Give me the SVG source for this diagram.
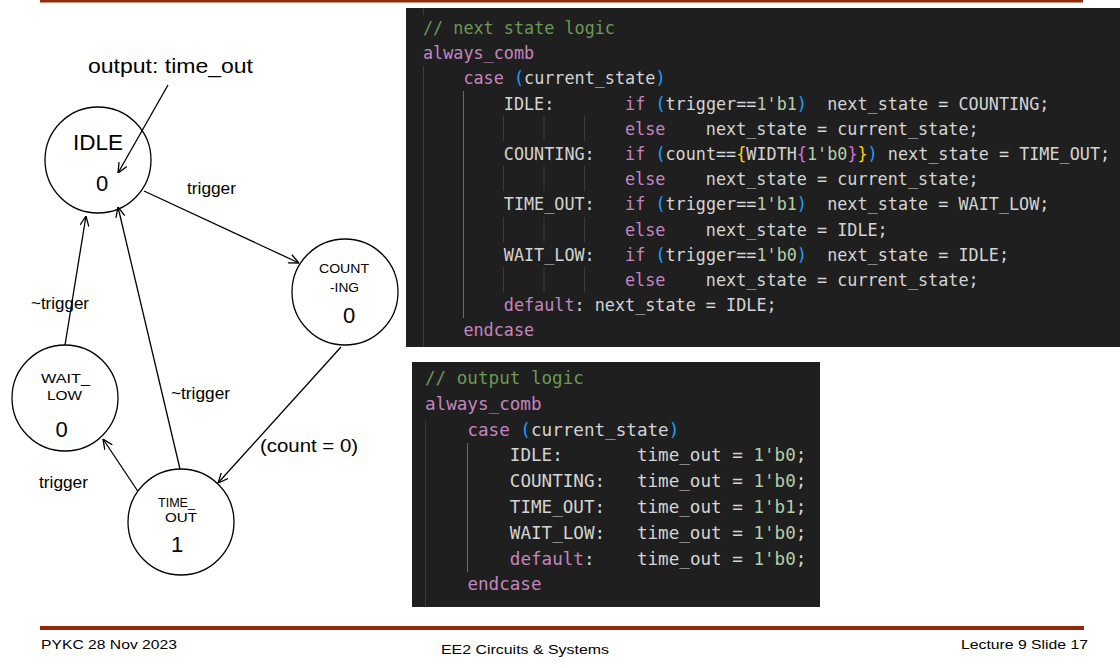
<svg xmlns="http://www.w3.org/2000/svg" width="1120" height="668" viewBox="0 0 1120 668">
<style>
.lbl{font-family:"Liberation Sans",Arial,sans-serif;fill:#000}
.st{fill:#fff;stroke:#000;stroke-width:1.3}
.edge{stroke:#000;stroke-width:1.3;fill:none;marker-end:url(#arr)}
.code{font-family:"DejaVu Sans Mono","Liberation Mono",monospace;fill:#D4D4D4}
.cm{fill:#6A9955}.kw{fill:#C586C0}.num{fill:#B5CEA8}.b1{fill:#FFD700}.b2{fill:#DA70D6}.b3{fill:#179FFF}
.g{stroke:#3c3c3c;stroke-width:1}.ga{stroke:#6a6a6a;stroke-width:1}
.foot{font-family:"Liberation Sans",Arial,sans-serif;font-size:12.5px;fill:#000}
</style>
<defs>
<marker id="arr" viewBox="0 0 10 10" refX="10" refY="5" markerWidth="10" markerHeight="10" markerUnits="userSpaceOnUse" orient="auto">
<path d="M0,0.5 L10,5 L0,9.5" fill="none" stroke="#000" stroke-width="1.3"/>
</marker>
</defs>
<rect width="1120" height="668" fill="#fff"/>
<rect x="40" y="0" width="1043" height="2.5" fill="#8E2B08"/>
<rect x="40" y="626" width="1044" height="4" fill="#8E2B08"/>

<g id="connectors">
<line class="edge" x1="168" y1="85" x2="118" y2="173"/>
<line class="edge" x1="144" y1="191" x2="299" y2="263"/>
<line class="edge" x1="341" y1="347" x2="218" y2="483"/>
<line class="edge" x1="139" y1="493" x2="103" y2="439"/>
<line class="edge" x1="65" y1="345" x2="86" y2="216"/>
<line class="edge" x1="180" y1="469" x2="118" y2="207"/>
<text class="lbl" x="187" y="194" font-size="16" textLength="49" lengthAdjust="spacingAndGlyphs">trigger</text>
<text class="lbl" x="31" y="309" font-size="16" textLength="58" lengthAdjust="spacingAndGlyphs">~trigger</text>
<text class="lbl" x="171" y="399" font-size="16" textLength="59" lengthAdjust="spacingAndGlyphs">~trigger</text>
<text class="lbl" x="260" y="452" font-size="18" textLength="98" lengthAdjust="spacingAndGlyphs">(count = 0)</text>
<text class="lbl" x="39" y="488" font-size="16" textLength="49" lengthAdjust="spacingAndGlyphs">trigger</text>
</g>

<g id="output-label">
<text class="lbl" x="88" y="73" font-size="20" textLength="165" lengthAdjust="spacingAndGlyphs">output: time_out</text>
</g>

<g id="idle">
<circle class="st" cx="98" cy="160" r="53" fill-opacity="0"/>
<text class="lbl" x="98" y="150" font-size="22.5" text-anchor="middle">IDLE</text>
<text class="lbl" x="102" y="191" font-size="22" text-anchor="middle">0</text>
</g>

<g id="counting">
<circle class="st" cx="345" cy="292" r="53"/>
<text class="lbl" x="344" y="273" font-size="13" text-anchor="middle" textLength="50" lengthAdjust="spacingAndGlyphs">COUNT</text>
<text class="lbl" x="344.5" y="292" font-size="13" text-anchor="middle" textLength="29" lengthAdjust="spacingAndGlyphs">-ING</text>
<text class="lbl" x="349" y="323" font-size="22" text-anchor="middle">0</text>
</g>

<g id="wait_low">
<circle class="st" cx="65" cy="398" r="53"/>
<text class="lbl" x="65.5" y="383" font-size="13" text-anchor="middle" textLength="49" lengthAdjust="spacingAndGlyphs">WAIT_</text>
<text class="lbl" x="64.5" y="400" font-size="13" text-anchor="middle" textLength="35" lengthAdjust="spacingAndGlyphs">LOW</text>
<text class="lbl" x="61.5" y="437" font-size="22" text-anchor="middle">0</text>
</g>

<g id="time_out">
<circle class="st" cx="181" cy="522" r="53"/>
<text class="lbl" x="176.5" y="507" font-size="13" text-anchor="middle" textLength="37" lengthAdjust="spacingAndGlyphs">TIME_</text>
<text class="lbl" x="181" y="522" font-size="13" text-anchor="middle" textLength="32" lengthAdjust="spacingAndGlyphs">OUT</text>
<text class="lbl" x="177" y="552" font-size="22" text-anchor="middle">1</text>
</g>

<g id="code-next-state">
<rect x="406" y="8" width="714" height="339" fill="#1F1F1F"/>
<line class="g" x1="423.5" y1="8" x2="423.5" y2="15"/>
<line class="g" x1="423.5" y1="66" x2="423.5" y2="347"/>
<line class="ga" x1="463.5" y1="91" x2="463.5" y2="318"/>
<g class="g">
<line x1="503.5" y1="116" x2="503.5" y2="141"/><line x1="544" y1="116" x2="544" y2="141"/><line x1="584.5" y1="116" x2="584.5" y2="141"/>
<line x1="503.5" y1="166" x2="503.5" y2="191"/><line x1="544" y1="166" x2="544" y2="191"/><line x1="584.5" y1="166" x2="584.5" y2="191"/>
<line x1="503.5" y1="217" x2="503.5" y2="242"/><line x1="544" y1="217" x2="544" y2="242"/><line x1="584.5" y1="217" x2="584.5" y2="242"/>
<line x1="503.5" y1="267" x2="503.5" y2="292"/><line x1="544" y1="267" x2="544" y2="292"/><line x1="584.5" y1="267" x2="584.5" y2="292"/>
</g>
<g class="code" font-size="16.8">
<text x="423" y="34"><tspan class="cm">//&#160;next&#160;state&#160;logic</tspan></text>
<text x="423" y="59.2"><tspan class="kw">always_comb</tspan></text>
<text x="463.4" y="84.4"><tspan class="kw">case</tspan>&#160;<tspan class="b3">(</tspan>current_state<tspan class="b3">)</tspan></text>
<text x="503.8" y="109.6">IDLE:&#160;&#160;&#160;&#160;&#160;&#160;&#160;<tspan class="kw">if</tspan>&#160;<tspan class="b3">(</tspan>trigger==<tspan class="num">1'b1</tspan><tspan class="b3">)</tspan>&#160;&#160;next_state&#160;=&#160;COUNTING;</text>
<text x="625" y="134.8"><tspan class="kw">else</tspan>&#160;&#160;&#160;&#160;next_state&#160;=&#160;current_state;</text>
<text x="503.8" y="160">COUNTING:&#160;&#160;&#160;<tspan class="kw">if</tspan>&#160;<tspan class="b3">(</tspan>count==<tspan class="b1">{</tspan>WIDTH<tspan class="b2">{</tspan><tspan class="num">1'b0</tspan><tspan class="b2">}</tspan><tspan class="b1">}</tspan><tspan class="b3">)</tspan>&#160;next_state&#160;=&#160;TIME_OUT;</text>
<text x="625" y="185.2"><tspan class="kw">else</tspan>&#160;&#160;&#160;&#160;next_state&#160;=&#160;current_state;</text>
<text x="503.8" y="210.4">TIME_OUT:&#160;&#160;&#160;<tspan class="kw">if</tspan>&#160;<tspan class="b3">(</tspan>trigger==<tspan class="num">1'b1</tspan><tspan class="b3">)</tspan>&#160;&#160;next_state&#160;=&#160;WAIT_LOW;</text>
<text x="625" y="235.6"><tspan class="kw">else</tspan>&#160;&#160;&#160;&#160;next_state&#160;=&#160;IDLE;</text>
<text x="503.8" y="260.8">WAIT_LOW:&#160;&#160;&#160;<tspan class="kw">if</tspan>&#160;<tspan class="b3">(</tspan>trigger==<tspan class="num">1'b0</tspan><tspan class="b3">)</tspan>&#160;&#160;next_state&#160;=&#160;IDLE;</text>
<text x="625" y="286"><tspan class="kw">else</tspan>&#160;&#160;&#160;&#160;next_state&#160;=&#160;current_state;</text>
<text x="503.8" y="311.2"><tspan class="kw">default</tspan>:&#160;next_state&#160;=&#160;IDLE;</text>
<text x="463.4" y="336.4"><tspan class="kw">endcase</tspan></text>
</g>
</g>

<g id="code-output">
<rect x="412" y="362" width="408" height="245" fill="#1F1F1F"/>
<line class="g" x1="425.5" y1="420" x2="425.5" y2="607"/>
<line class="ga" x1="467.5" y1="443" x2="467.5" y2="572"/>
<g class="code" font-size="17.6">
<text x="425" y="384"><tspan class="cm">//&#160;output&#160;logic</tspan></text>
<text x="425" y="409.8"><tspan class="kw">always_comb</tspan></text>
<text x="467.4" y="435.6"><tspan class="kw">case</tspan>&#160;<tspan class="b3">(</tspan>current_state<tspan class="b3">)</tspan></text>
<text x="509.8" y="461.4">IDLE:&#160;&#160;&#160;&#160;&#160;&#160;&#160;time_out&#160;=&#160;<tspan class="num">1'b0</tspan>;</text>
<text x="509.8" y="487.2">COUNTING:&#160;&#160;&#160;time_out&#160;=&#160;<tspan class="num">1'b0</tspan>;</text>
<text x="509.8" y="513">TIME_OUT:&#160;&#160;&#160;time_out&#160;=&#160;<tspan class="num">1'b1</tspan>;</text>
<text x="509.8" y="538.8">WAIT_LOW:&#160;&#160;&#160;time_out&#160;=&#160;<tspan class="num">1'b0</tspan>;</text>
<text x="509.8" y="564.6"><tspan class="kw">default</tspan>:&#160;&#160;&#160;&#160;time_out&#160;=&#160;<tspan class="num">1'b0</tspan>;</text>
<text x="467.4" y="590.4"><tspan class="kw">endcase</tspan></text>
</g>
</g>

<g id="footer">
<text class="foot" x="41" y="649" textLength="136" lengthAdjust="spacingAndGlyphs">PYKC 28 Nov 2023</text>
<text class="foot" x="441" y="654" textLength="168" lengthAdjust="spacingAndGlyphs">EE2 Circuits &amp; Systems</text>
<text class="foot" x="961" y="649" textLength="127" lengthAdjust="spacingAndGlyphs">Lecture 9 Slide 17</text>
</g>
</svg>
